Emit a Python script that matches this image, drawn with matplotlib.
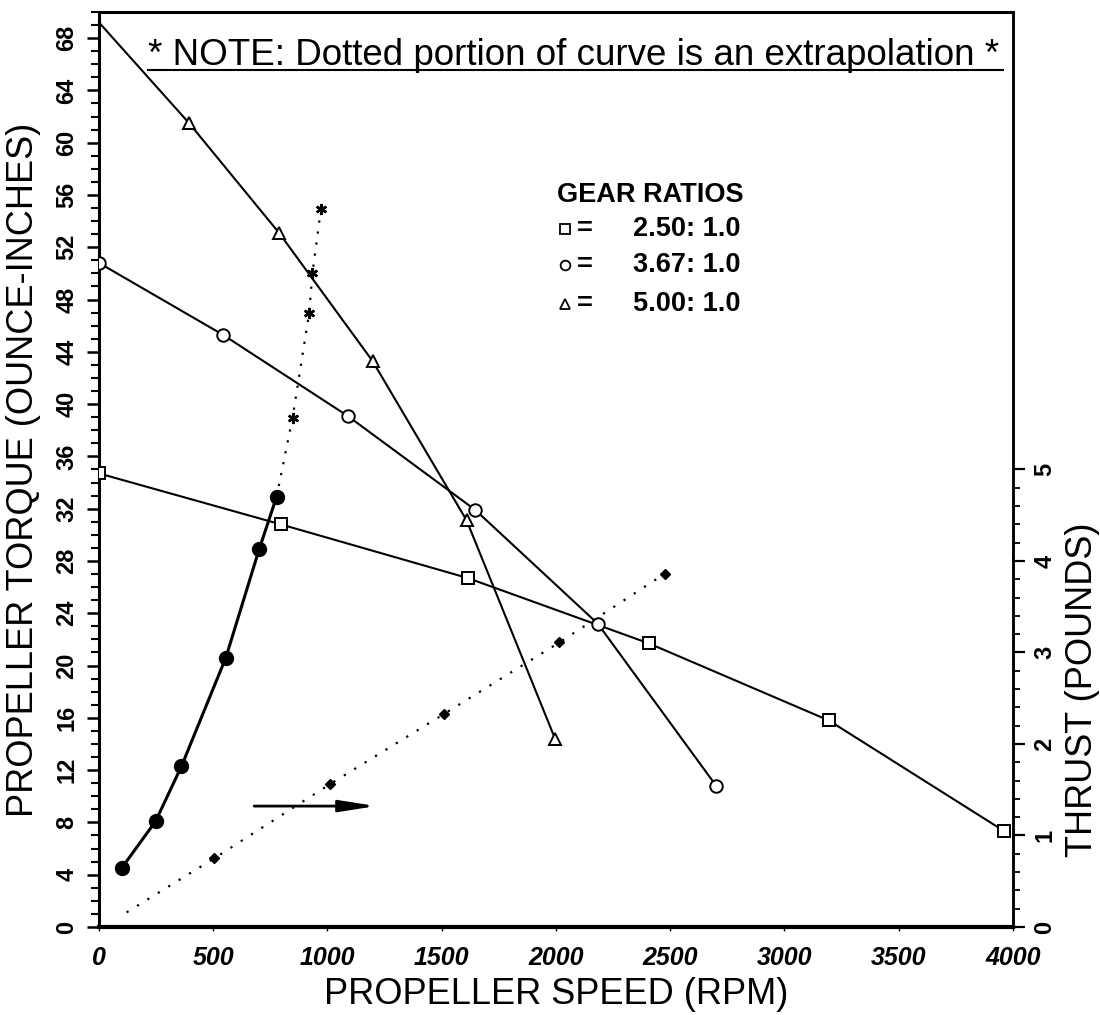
import numpy as np
import matplotlib
matplotlib.use("Agg")
import matplotlib.pyplot as plt
from matplotlib.ticker import MultipleLocator, FixedLocator

plt.rcParams['font.family'] = ['Liberation Sans', 'DejaVu Sans']

# ---------------------------------------------------------
# Datos (RPM vs par en oz-in)
# ---------------------------------------------------------
# relacion 2.50 : 1.0 (cuadrados)
sq_rpm = [0, 796, 1613, 2406, 3194, 3960]
sq_torque = [34.7, 30.8, 26.7, 21.7, 15.8, 7.35]

# relacion 3.67 : 1.0 (circulos)
ci_rpm = [0, 543, 1088, 1647, 2183, 2701]
ci_torque = [50.8, 45.3, 39.1, 31.9, 23.2, 10.8]

# relacion 5.00 : 1.0 (triangulos)
tr_rpm = [0, 394, 788, 1197, 1609, 1996]
tr_torque = [69.2, 61.5, 53.1, 43.3, 31.1, 14.4]

# par de la helice (circulos llenos) + extrapolacion punteada
fc_rpm = [99, 248, 361, 555, 701, 777]
fc_torque = [4.5, 8.1, 12.3, 20.6, 28.9, 32.9]
ext_rpm = [777, 847, 920, 934, 971]
ext_torque = [32.9, 38.95, 47.0, 50.0, 54.9]

# empuje (libras), eje derecho
thrust_rpm = [121, 504, 1010, 1511, 2015, 2475]
thrust_lb = [0.16, 0.75, 1.56, 2.33, 3.11, 3.86]

# flecha que apunta al eje derecho
arrow_rpm = [679, 1212]
arrow_torque = [9.25, 9.25]

legend_labels = ["2.50: 1.0", "3.67: 1.0", "5.00: 1.0"]
legend_markers = ["s", "o", "^"]

note = "* NOTE: Dotted portion of curve is an extrapolation *"

# ---------------------------------------------------------
# Figura
# ---------------------------------------------------------
fig = plt.figure(figsize=(11, 10.15), dpi=100)
ax = fig.add_axes([0.09, 0.0867, 0.8309, 0.9015])
ax2 = ax.twinx()

open_style = dict(color="black", lw=1.5, markersize=9, markerfacecolor="white",
                  markeredgewidth=1.4, zorder=3)

ax.plot(sq_rpm, sq_torque, marker="s", **open_style)
ax.plot(ci_rpm, ci_torque, marker="o", **open_style)
ax.plot(tr_rpm, tr_torque, marker="^", markevery=list(range(1, len(tr_rpm))), **open_style)

ax.plot(fc_rpm, fc_torque, color="black", lw=2.2, marker="o", markersize=10, zorder=4)
ax.plot(ext_rpm, ext_torque, color="black", lw=1.6, linestyle=(0, (1, 4)),
        marker=(6, 2, 0), markersize=8, markeredgewidth=1.8,
        markevery=list(range(1, len(ext_rpm))), zorder=4)

ax2.plot(thrust_rpm, thrust_lb, color="black", lw=1.6, linestyle=(0, (1, 4.5)),
         marker="D", markersize=5.5, markevery=list(range(1, len(thrust_rpm))))

ax.annotate("", xy=(arrow_rpm[1], arrow_torque[1]), xytext=(arrow_rpm[0], arrow_torque[0]),
            arrowprops=dict(arrowstyle="-|>,head_length=2.2,head_width=0.35",
                            lw=2, color="black", shrinkA=0, shrinkB=0))

# ---------------------------------------------------------
# Ejes
# ---------------------------------------------------------
ax.set_xlim(0, 4000)
ax.set_ylim(0, 70)
ax2.set_ylim(0, 10)

xt = list(range(0, 4001, 500))
ax.set_xticks(xt, [str(v) for v in xt], fontsize=18, fontweight="bold", style="italic")
ax.tick_params(axis="x", direction="out", length=3, width=1, pad=11)

yt = list(range(0, 69, 4))
ax.set_yticks(yt, [str(v) for v in yt], fontsize=17, fontweight="bold",
              rotation=90, va="center")
ax.yaxis.set_minor_locator(MultipleLocator(1))
ax.tick_params(axis="y", which="major", direction="out", length=9, width=1.8, pad=6)
ax.tick_params(axis="y", which="minor", direction="out", length=5.5, width=1.5)

rt = list(range(0, 6))
ax2.set_yticks(rt, [str(v) for v in rt], fontsize=17, fontweight="bold",
               rotation=90, va="center")
ax2.yaxis.set_minor_locator(FixedLocator(np.arange(0, 5.01, 0.2)))
ax2.tick_params(axis="y", which="major", direction="out", length=8.5, width=1.6, pad=6)
ax2.tick_params(axis="y", which="minor", direction="out", length=5, width=1.3)

for s in ["left", "top"]:
    ax.spines[s].set_linewidth(2.2)
ax.spines["bottom"].set_linewidth(3)
ax.spines["right"].set_linewidth(1.8)
for s in ["left", "top", "bottom"]:
    ax2.spines[s].set_visible(False)
ax2.spines["right"].set_linewidth(1.8)

ax.set_xlabel("PROPELLER SPEED (RPM)", fontsize=26, labelpad=5)
ax.set_ylabel("PROPELLER TORQUE (OUNCE-INCHES)", fontsize=26, labelpad=10)
fig.text(1083 / 1100, 1 - 690 / 1015, "THRUST (POUNDS)", fontsize=26,
         rotation=90, ha="center", va="center")

# ---------------------------------------------------------
# Nota y leyenda
# ---------------------------------------------------------
ax.text(0.0536, 0.942, note, transform=ax.transAxes, fontsize=26.5,
        ha="left", va="baseline")
ax.plot([0.0536, 0.989], [0.937, 0.937], transform=ax.transAxes,
        color="black", lw=1.5, clip_on=False)

ax.text(0.501, 0.800, "GEAR RATIOS", transform=ax.transAxes, fontsize=19.5,
        fontweight="bold", ha="left", va="center")
row_y = [0.763, 0.723, 0.681]
for lab, mk, yy in zip(legend_labels, legend_markers, row_y):
    ax.plot([0.510], [yy], transform=ax.transAxes, marker=mk, markersize=7,
            markerfacecolor="white", markeredgecolor="black", markeredgewidth=1.3,
            linestyle="none")
    ax.text(0.523, yy, "=", transform=ax.transAxes, fontsize=19.5,
            fontweight="bold", ha="left", va="center")
    ax.text(0.584, yy, lab, transform=ax.transAxes, fontsize=19.5,
            fontweight="bold", ha="left", va="center")

fig.savefig("out.png", dpi=100, facecolor="white")
